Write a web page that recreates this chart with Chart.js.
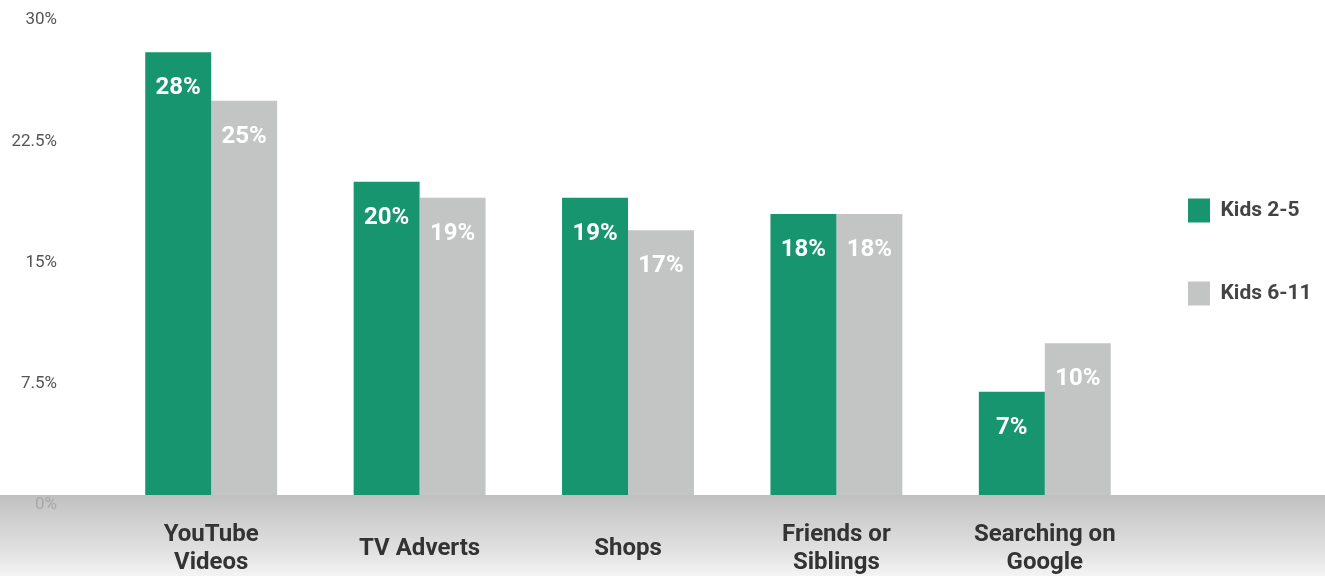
<!DOCTYPE html>
<html>
<head>
<meta charset="utf-8">
<script src="https://cdn.jsdelivr.net/npm/chart.js@4"></script>
<style>
  body { margin: 0; background: #fff; }
</style>
</head>
<body>
<canvas id="chart" width="1325" height="576"></canvas>
<script>
// data
const categories = [['YouTube', 'Videos'], 'TV Adverts', 'Shops', ['Friends or', 'Siblings'], ['Searching on', 'Google']];
const kids2to5 = [28, 20, 19, 18, 7];
const kids6to11 = [25, 19, 17, 18, 10];
const seriesNames = ['Kids 2-5', 'Kids 6-11'];
const yMax = 30;
const yStep = 7.5;

// labels inside the bars
const barLabels = {
    id: 'barLabels',
    afterDatasetsDraw(chart) {
        const ctx = chart.ctx;
        ctx.save();
        ctx.fillStyle = '#ffffff';
        ctx.font = 'bold 24px Roboto';
        ctx.textAlign = 'center';
        ctx.textBaseline = 'middle';
        chart.data.datasets.forEach((ds, i) => {
            chart.getDatasetMeta(i).data.forEach((bar, j) => {
                ctx.fillText(ds.data[j] + '%', bar.x, bar.y + 36);
            });
        });
        ctx.restore();
    }
};

// grey band behind the category labels
const bottomBand = {
    id: 'bottomBand',
    afterDatasetsDraw(chart) {
        const ctx = chart.ctx;
        const top = chart.scales.y.getPixelForValue(0) - 10;
        const g = ctx.createLinearGradient(0, top, 0, chart.height);
        g.addColorStop(0, '#c0c0c0');
        g.addColorStop(0.45, '#d6d6d6');
        g.addColorStop(0.75, '#e4e4e4');
        g.addColorStop(1, '#f4f4f4');
        ctx.save();
        ctx.fillStyle = g;
        ctx.fillRect(0, top, chart.width, chart.height - top);
        ctx.restore();
    }
};

// pull the legend a little closer to the bars
const legendNudge = {
    id: 'legendNudge',
    afterLayout(chart) {
        chart.legend.left -= 20;
        chart.legend.top -= 46;
        chart.legend.bottom -= 46;
    }
};

new Chart(document.getElementById('chart'), {
    type: 'bar',
    data: {
        labels: categories,
        datasets: [{
            label: seriesNames[0],
            data: kids2to5,
            backgroundColor: '#17956f'
        }, {
            label: seriesNames[1],
            data: kids6to11,
            backgroundColor: '#c3c4c4'
        }]
    },
    options: {
        responsive: false,
        animation: false,
        layout: { padding: { top: 20, right: 0, bottom: 0, left: 0 } },
        datasets: {
            bar: { barPercentage: 1, categoryPercentage: 0.633 }
        },
        plugins: {
            tooltip: { enabled: false },
            legend: {
                position: 'right',
                maxWidth: 176,
                labels: {
                    boxWidth: 22,
                    boxHeight: 24,
                    padding: 59,
                    color: '#444',
                    font: { family: 'Roboto', size: 21, weight: 'bold' }
                }
            }
        },
        scales: {
            x: {
                grid: { display: false },
                border: { display: false },
                afterFit(scale) { scale.height = 71; },
                ticks: {
                    z: 1,
                    padding: 22,
                    crossAlign: 'center',
                    maxRotation: 0,
                    autoSkip: false,
                    color: '#333',
                    font: { family: 'Roboto', size: 24, weight: 'bold', lineHeight: 1.17 }
                }
            },
            y: {
                min: 0,
                max: yMax,
                grid: { display: true, drawOnChartArea: false, tickLength: 46, color: 'rgba(0,0,0,0)' },
                border: { display: false },
                afterFit(scale) { scale.width = 107; },
                ticks: {
                    z: 1,
                    stepSize: yStep,
                    padding: 4,
                    color: c => c.tick.value === 0 ? '#a8a8a8' : '#555',
                    font: { family: 'Roboto', size: 17 },
                    callback: v => v + '%'
                }
            }
        }
    },
    plugins: [barLabels, bottomBand, legendNudge]
});
</script>
</body>
</html>
